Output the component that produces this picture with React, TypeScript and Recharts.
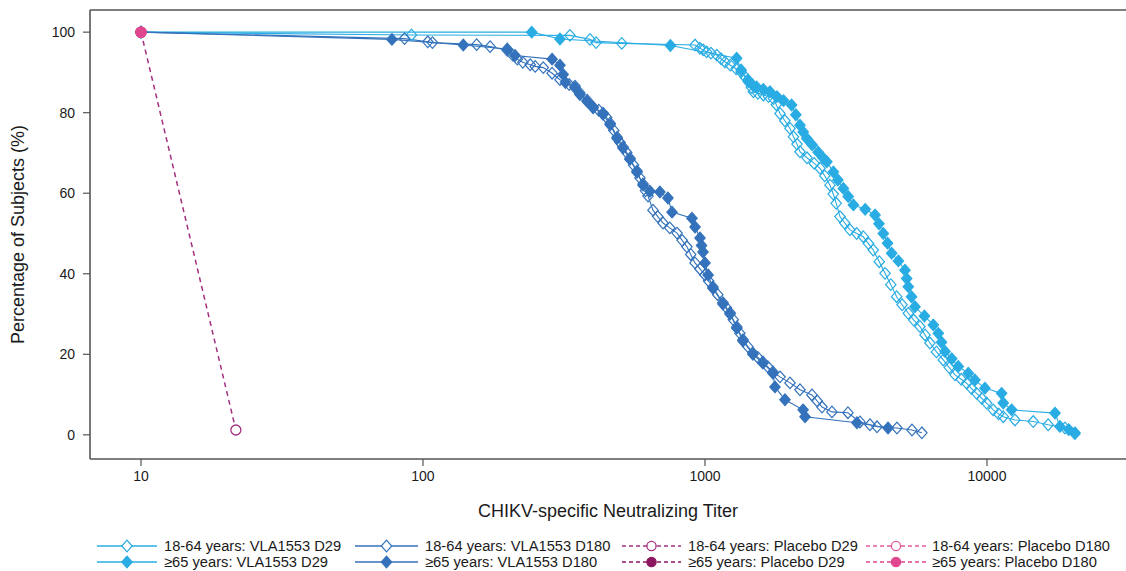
import React from 'react';
import { LineChart, Line, XAxis, YAxis, ReferenceLine } from 'recharts';

// ---------- data (titer, percentage of subjects) ----------
const young29Titer = [10, 91, 332, 391, 411, 507, 922, 960, 985, 1014, 1050, 1101, 1140, 1178, 1230, 1290, 1343, 1390, 1425, 1460, 1485, 1540, 1611, 1680, 1747, 1790, 1845, 1920, 2002, 2060, 2120, 2172, 2300, 2440, 2558, 2660, 2775, 2850, 2920, 3011, 3130, 3267, 3450, 3640, 3800, 3950, 4150, 4350, 4560, 4782, 5000, 5260, 5500, 5786, 6030, 6278, 6620, 7000, 7350, 7707, 8100, 8480, 8820, 9190, 9600, 9970, 10520, 11000, 11420, 12570, 14590, 16480, 18900, 20500];
const young29Pct = [100, 99.3, 99.2, 98.2, 97.4, 97.2, 96.8, 96.0, 95.6, 95.1, 94.8, 94.3, 93.4, 92.6, 91.8, 90.9, 90.1, 88.8, 87.7, 86.3, 85.2, 84.8, 84.4, 84.0, 83.5, 82.0, 79.8, 78.0, 76.1, 74.0, 72.2, 70.3, 68.8, 67.4, 66.2, 64.3, 62.0, 59.8, 57.5, 54.2, 52.6, 50.9, 50.0, 49.2, 47.5, 45.9, 43.0, 40.1, 37.3, 34.3, 32.3, 30.2, 28.5, 26.9, 24.8, 22.8, 20.6, 18.6, 16.7, 14.9, 13.8, 12.8, 11.5, 10.3, 9.0, 7.9, 6.2, 5.2, 4.5, 3.7, 3.3, 2.5, 1.7, 0.3];

const old29Titer = [10, 243, 306, 754, 1295, 1343, 1420, 1470, 1524, 1610, 1700, 1800, 1900, 2028, 2100, 2172, 2230, 2296, 2400, 2520, 2620, 2705, 2853, 2960, 3096, 3220, 3360, 3700, 4009, 4140, 4289, 4440, 4592, 4850, 5120, 5190, 5260, 5400, 5555, 6000, 6452, 6720, 6900, 7100, 7500, 7910, 8585, 9060, 9835, 11270, 11420, 12230, 17430, 18140, 19500, 20500];
const old29Pct = [100, 100, 98.3, 96.7, 93.5, 90.6, 88.1, 87.0, 86.4, 85.8, 85.2, 84.0, 83.0, 81.9, 79.5, 76.9, 75.2, 73.6, 72.0, 70.2, 68.8, 67.8, 65.3, 63.3, 61.2, 59.2, 57.1, 56.0, 54.6, 52.4, 50.0, 47.6, 45.1, 43.2, 40.9, 38.8, 36.8, 34.3, 31.8, 29.5, 27.3, 25.2, 23.0, 20.7, 18.9, 17.0, 15.3, 13.6, 11.6, 10.3, 7.9, 6.2, 5.4, 2.1, 1.3, 0.5];

const young180Titer = [10, 86, 104, 108, 155, 173, 199, 208, 216, 226, 240, 250, 267, 287, 306, 330, 346, 360, 382, 401, 420, 435, 448, 461, 475, 488, 500, 512, 528, 542, 558, 574, 588, 603, 615, 628, 654, 680, 710, 750, 796, 830, 863, 890, 922, 960, 1000, 1030, 1067, 1110, 1158, 1190, 1227, 1260, 1297, 1330, 1364, 1420, 1479, 1540, 1605, 1670, 1742, 1845, 2002, 2172, 2395, 2500, 2600, 2820, 3213, 3545, 3847, 4074, 4795, 5420, 5875];
const young180Pct = [100, 98.4, 97.6, 97.4, 96.9, 96.4, 95.5, 94.3, 93.3, 92.5, 91.9, 91.5, 91.2, 89.8, 88.2, 87.0, 86.6, 84.9, 83.1, 81.4, 80.6, 79.9, 78.8, 77.4, 75.6, 73.9, 72.6, 71.5, 70.1, 68.7, 67.0, 65.5, 63.8, 62.3, 60.6, 59.3, 55.8, 54.2, 52.6, 51.4, 50.1, 48.3, 46.7, 44.8, 42.7, 41.2, 39.7, 38.2, 36.7, 34.8, 32.8, 31.6, 30.3, 28.6, 26.8, 25.2, 23.6, 21.9, 20.3, 19.2, 18.1, 16.9, 15.6, 14.4, 12.9, 11.2, 9.9, 8.4, 6.9, 5.7, 5.5, 3.2, 2.5, 2.0, 1.7, 1.2, 0.5];

const old180Titer = [10, 77.6, 139, 199, 212, 287, 306, 314, 320, 346, 360, 382, 401, 435, 461, 488, 512, 542, 574, 603, 638, 692, 739, 764, 899, 922, 960, 972, 984, 1000, 1026, 1067, 1158, 1227, 1297, 1364, 1479, 1605, 1742, 1771, 1922, 2228, 2264, 3458, 4457];
const old180Pct = [100, 98.2, 96.8, 95.8, 94.2, 93.3, 91.8, 89.5, 87.5, 86.2, 84.5, 82.8, 81.2, 79.6, 77.0, 73.6, 71.2, 68.4, 65.2, 62.0, 60.5, 60.3, 58.8, 55.3, 53.8, 51.6, 48.9, 47.0, 45.4, 42.7, 39.7, 36.4, 32.5, 30.0, 26.5, 23.3, 20.0, 17.8, 15.3, 11.9, 8.7, 6.2, 4.5, 3.0, 1.7];

const youngPlacebo29Titer = [10, 21.7];
const youngPlacebo29Pct = [100, 1.2];
const oldPlacebo29Titer = [10];
const oldPlacebo29Pct = [100];
const youngPlacebo180Titer = [10];
const youngPlacebo180Pct = [100];
const oldPlacebo180Titer = [10];
const oldPlacebo180Pct = [100];

const xTicks = [10, 100, 1000, 10000];
const yTicks = [0, 20, 40, 60, 80, 100];

// ---------- styling ----------
const LIGHT = '#29ACE3';
const DARK = '#3472BB';
const PLA29_OPEN = '#A3307F';
const PLA29_FILL = '#8C1660';
const PLA180_OPEN = '#E35C9E';
const PLA180_FILL = '#E0468E';
const AXIS = '#555555';
const FONT = '"Liberation Sans", Arial, sans-serif';

const toPoints = (xs: number[], ys: number[]) => xs.map((x, i) => ({ x, y: ys[i] }));

type Series = {
  id: string;
  name: string;
  color: string;
  shape: 'diamond' | 'circle';
  filled: boolean;
  dashed: boolean;
  data: { x: number; y: number }[];
};

const series: Series[] = [
  { id: 'y29', name: '18-64 years: VLA1553 D29', color: LIGHT, shape: 'diamond', filled: false, dashed: false, data: toPoints(young29Titer, young29Pct) },
  { id: 'o29', name: '\u226565 years: VLA1553 D29', color: LIGHT, shape: 'diamond', filled: true, dashed: false, data: toPoints(old29Titer, old29Pct) },
  { id: 'y180', name: '18-64 years: VLA1553 D180', color: DARK, shape: 'diamond', filled: false, dashed: false, data: toPoints(young180Titer, young180Pct) },
  { id: 'o180', name: '\u226565 years: VLA1553 D180', color: DARK, shape: 'diamond', filled: true, dashed: false, data: toPoints(old180Titer, old180Pct) },
  { id: 'yp29', name: '18-64 years: Placebo D29', color: PLA29_OPEN, shape: 'circle', filled: false, dashed: true, data: toPoints(youngPlacebo29Titer, youngPlacebo29Pct) },
  { id: 'op29', name: '\u226565 years: Placebo D29', color: PLA29_FILL, shape: 'circle', filled: true, dashed: true, data: toPoints(oldPlacebo29Titer, oldPlacebo29Pct) },
  { id: 'yp180', name: '18-64 years: Placebo D180', color: PLA180_OPEN, shape: 'circle', filled: false, dashed: true, data: toPoints(youngPlacebo180Titer, youngPlacebo180Pct) },
  { id: 'op180', name: '\u226565 years: Placebo D180', color: PLA180_FILL, shape: 'circle', filled: true, dashed: true, data: toPoints(oldPlacebo180Titer, oldPlacebo180Pct) },
];

const Marker = ({ s, cx, cy, legend }: { s: Series; cx: number; cy: number; legend?: boolean }) => {
  if (s.shape === 'diamond') {
    const h = 5.8;
    const w = 5.2;
    return (
      <path
        d={`M${cx},${cy - h}L${cx + w},${cy}L${cx},${cy + h}L${cx - w},${cy}Z`}
        fill={s.filled ? s.color : legend ? '#ffffff' : 'none'}
        stroke={s.color}
        strokeWidth={1.2}
      />
    );
  }
  return <circle cx={cx} cy={cy} r={legend ? 4.6 : 5} fill={s.filled ? s.color : '#ffffff'} stroke={s.color} strokeWidth={1.3} />;
};

const makeDot = (s: Series) => (props: any) => {
  const { cx, cy, index } = props;
  if (cx == null || cy == null || isNaN(cx) || isNaN(cy)) return <g key={`${s.id}-${index}`} />;
  return (
    <g key={`${s.id}-${index}`}>
      <Marker s={s} cx={cx} cy={cy} />
    </g>
  );
};

// legend layout (columns: VLA D29, VLA D180, Placebo D29, Placebo D180)
const legendCols = [
  { lineStart: 97, lineEnd: 157, text: 164 },
  { lineStart: 355, lineEnd: 418, text: 425 },
  { lineStart: 622, lineEnd: 681, text: 688 },
  { lineStart: 866, lineEnd: 926, text: 932 },
];
const legendRows = [546, 562];

const LegendOverlay = () => (
  <svg width={1126} height={571} style={{ position: 'absolute', left: 0, top: 0, pointerEvents: 'none' }}>
    {series.map((s, i) => {
      const col = legendCols[Math.floor(i / 2)];
      const y = legendRows[i % 2];
      const mid = (col.lineStart + col.lineEnd) / 2;
      return (
        <g key={s.id}>
          <line
            x1={col.lineStart}
            x2={col.lineEnd}
            y1={y}
            y2={y}
            stroke={s.color}
            strokeWidth={1.3}
            strokeDasharray={s.dashed ? '4 3' : undefined}
          />
          <Marker s={s} cx={mid} cy={y} legend />
          <text x={col.text} y={y} dominantBaseline="central" fontFamily={FONT} fontSize={14.7} fill="#1a1a1a">
            {s.name}
          </text>
        </g>
      );
    })}
  </svg>
);

export default function App() {
  return (
    <div style={{ position: 'absolute', left: 0, top: 0, width: 1126, height: 571, background: '#ffffff' }}>
      <LineChart width={1126} height={571} margin={{ top: 10, right: 0, left: 0, bottom: 0 }}>
        <XAxis
          dataKey="x"
          type="number"
          scale="log"
          domain={[6.594, 31117]}
          allowDataOverflow
          ticks={xTicks}
          tickFormatter={(v: number) => String(v)}
          height={112}
          tickSize={7}
          tickMargin={5}
          axisLine={{ stroke: AXIS, strokeWidth: 1.6 }}
          tickLine={{ stroke: AXIS, strokeWidth: 1.2 }}
          tick={{ fill: '#1a1a1a', fontSize: 14, fontFamily: FONT }}
          label={{
            value: 'CHIKV-specific Neutralizing Titer',
            position: 'insideTop',
            offset: 45,
            style: { fill: '#1a1a1a', fontSize: 18, fontFamily: FONT },
          }}
        />
        <YAxis
          type="number"
          domain={[-6, 105.5]}
          allowDataOverflow
          ticks={yTicks}
          width={90}
          tickSize={7}
          tickMargin={8}
          axisLine={{ stroke: AXIS, strokeWidth: 1.6 }}
          tickLine={{ stroke: AXIS, strokeWidth: 1.2 }}
          tick={{ fill: '#1a1a1a', fontSize: 14, fontFamily: FONT }}
          label={{
            value: 'Percentage of Subjects (%)',
            angle: -90,
            position: 'insideLeft',
            offset: 18,
            style: { textAnchor: 'middle', fill: '#1a1a1a', fontSize: 18, fontFamily: FONT },
          }}
        />
        <ReferenceLine y={105.5} stroke={AXIS} strokeWidth={1.6} />
        {series.map((s) => (
          <Line
            key={s.id}
            data={s.data}
            dataKey="y"
            type="linear"
            stroke={s.color}
            strokeWidth={s.dashed ? 1.5 : 1.1}
            strokeDasharray={s.dashed ? '5 4' : undefined}
            dot={makeDot(s)}
            activeDot={false}
            isAnimationActive={false}
            legendType="none"
          />
        ))}
      </LineChart>
      <LegendOverlay />
    </div>
  );
}
